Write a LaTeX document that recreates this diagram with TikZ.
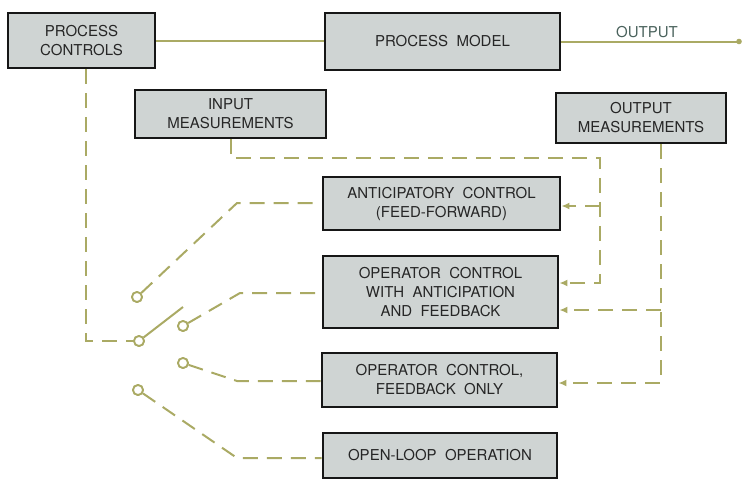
\documentclass[tikz,border=0pt]{standalone}
\usepackage{fontspec}
\setmainfont{TeX Gyre Heros}
\usetikzlibrary{arrows.meta}
\definecolor{wire}{HTML}{AAAA64}
\definecolor{boxfill}{HTML}{CFD4D3}
\definecolor{boxline}{HTML}{161616}
\definecolor{ink}{HTML}{262626}
\definecolor{outink}{HTML}{4A625C}
\begin{document}
\begin{tikzpicture}[x=1pt,y=-1pt,
  blk/.style={draw=boxline, fill=boxfill, line width=2.8pt, inner sep=0pt,
    align=center, text=ink, font=\fontsize{15}{19}\selectfont},
  feed/.style={draw=wire, line width=2pt, dash pattern=on 15pt off 9pt},
  link/.style={draw=wire, line width=2pt},
  tip/.style={-{Latex[length=8pt,width=7pt]}},
  term/.style={circle, draw=wire, fill=white, line width=1.8pt,
    minimum size=10pt, inner sep=0pt}]
\useasboundingbox (0,0) rectangle (743,479);

% blocks
\node[blk, minimum width=147pt, minimum height=55pt] (pc) at (81.5,40.5) {PROCESS\\CONTROLS};
\node[blk, minimum width=235pt, minimum height=57pt] (pm) at (442.5,41.5) {PROCESS\ \ MODEL};
\node[blk, minimum width=191pt, minimum height=48pt] (im) at (230.5,114) {INPUT\\MEASUREMENTS};
\node[blk, minimum width=170pt, minimum height=50pt] (om) at (641,118) {OUTPUT\\MEASUREMENTS};
\node[blk, minimum width=237pt, minimum height=53pt] (ac) at (441.5,203.5) {ANTICIPATORY\ \ CONTROL\\(FEED-FORWARD)};
\node[blk, minimum width=235pt, minimum height=72pt] (oc) at (440.5,292) {OPERATOR\ \ CONTROL\\WITH\ \ ANTICIPATION\\AND\ \ FEEDBACK};
\node[blk, minimum width=235pt, minimum height=54pt] (fb) at (439.5,380) {OPERATOR\ \ CONTROL,\\FEEDBACK\ \ ONLY};
\node[blk, minimum width=234pt, minimum height=45pt] (ol) at (440,455.5) {OPEN-LOOP\ \ OPERATION};

% main signal path
\draw[link] (pc.east) -- (pc.east -| pm.west);
\coordinate (outTip) at (739,41.5);
\draw[link] (pm.east) -- (outTip);
\fill[wire] (outTip) circle (2.8pt);
\node[text=outink, font=\fontsize{15}{17}\selectfont, inner sep=0pt] (outlbl) at (647,32) {OUTPUT};

% input measurements feed
\coordinate (inTurn) at (600,158);
\coordinate (inTap) at (600,206);
\coordinate (inEnd) at (600,283);
\draw[feed, tip] (im.south) |- (inTurn) -- (inEnd) -- (inEnd -| oc.east);
\draw[feed, tip] (inTap) -- (inTap -| ac.east);

% output measurements feedback
\coordinate (fbTap) at (661,310);
\coordinate (fbEnd) at (661,383);
\draw[feed, tip] (om.south -| fbEnd) -- (fbEnd) -- (fbEnd -| fb.east);
\draw[feed, tip] (fbTap) -- (fbTap -| oc.east);

% selector switch
\node[term] (piv) at (139,341) {};
\node[term] (t1) at (137,297) {};
\node[term] (t2) at (183,326) {};
\node[term] (t3) at (183,363) {};
\node[term] (t4) at (138,390) {};
\coordinate (pcTurn) at (86,341);
\coordinate (armTip) at (183,307);
\coordinate (b1) at (237,203);
\coordinate (b2) at (240,293);
\coordinate (b3) at (237,381);
\coordinate (b4) at (237,458);

\draw[feed] (pc.south -| pcTurn) -- (pcTurn) -- (piv);
\draw[link] (piv) -- (armTip);
\draw[feed] (t1) -- (b1) -- (b1 -| ac.west);
\draw[feed] (t2) -- (b2) -- (b2 -| oc.west);
\draw[feed] (t3) -- (b3) -- (b3 -| fb.west);
\draw[feed] (t4) -- (b4) -- (b4 -| ol.west);

% redraw terminals above the wires
\foreach \n in {piv,t1,t2,t3,t4}
  \draw[wire, line width=1.8pt, fill=white] (\n) circle (5pt);
\end{tikzpicture}
\end{document}
